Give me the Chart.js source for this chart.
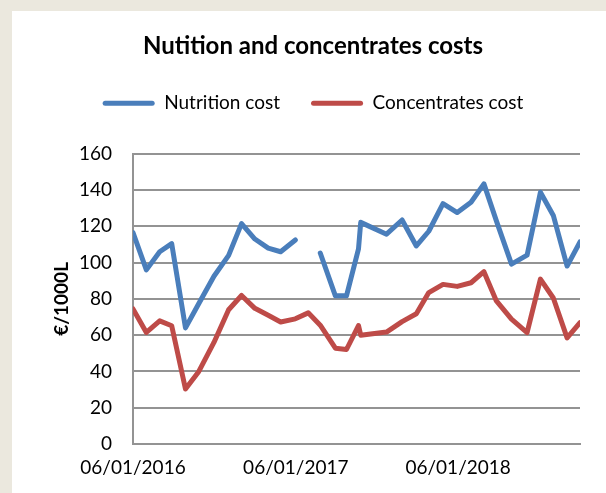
<!DOCTYPE html>
<html lang="en">
<head>
    <meta charset="UTF-8">
    <title>Nutition and concentrates costs</title>
    <script src="https://cdn.jsdelivr.net/npm/chart.js"></script>
    <style>
        body {
            margin: 0;
            width: 606px;
            height: 493px;
            background-color: #ebe8de;
            overflow: hidden;
        }
        .panel {
            position: absolute;
            left: 12px;
            top: 11px;
            width: 594px;
            height: 482px;
            background: white;
        }
    </style>
</head>
<body>
    <div class="panel">
        <canvas id="costChart" width="594" height="482"></canvas>
    </div>
    <script>
        // sample dates (the axis is a date axis)
        const dates = [
            '2016-01-06', '2016-02-05', '2016-03-06', '2016-04-02', '2016-05-03', '2016-06-02',
            '2016-07-06', '2016-08-08', '2016-09-06', '2016-10-06', '2016-11-05', '2016-12-03',
            '2017-01-05', '2017-02-03', '2017-03-02', '2017-04-05', '2017-04-30', '2017-05-27',
            '2017-06-01', '2017-07-29', '2017-09-02', '2017-10-04', '2017-11-01', '2017-12-03',
            '2018-01-04', '2018-02-04', '2018-03-05', '2018-04-02', '2018-05-06', '2018-06-10',
            '2018-07-10', '2018-08-08', '2018-09-08', '2018-10-07'
        ];
        const nutritionCost = [
            116.5, 96, 106, 110.5, 64, 77.5,
            92.5, 104, 121.5, 113, 108, 106,
            112.5, null, 105.3, 81.7, 81.7, 107.6,
            122.2, 115.7, 123.5, 109.2, 117.3, 132.5,
            127.6, 133.3, 143.4, 123, 99.2, 104.1,
            138.8, 126, 98.1, 111.4
        ];
        const concentratesCost = [
            74.5, 61.5, 67.9, 65.2, 30.3, 40,
            56, 74, 81.9, 74.8, 71, 67.3,
            69, 72.3, 65.5, 52.8, 52.1, 65.3,
            60, 61.7, 67.5, 71.8, 83.5, 88,
            86.9, 88.9, 95, 78.9, 68.8, 61.4,
            90.9, 80.5, 58.5, 66.9
        ];
        const tickDates = ['2016-01-06', '2017-01-06', '2018-01-06'];
        const tickLabels = ['06/01/2016', '06/01/2017', '06/01/2018'];

        const DAY = 86400000;
        const origin = Date.parse(dates[0]);
        const toDay = d => Math.round((Date.parse(d) - origin) / DAY);

        const nutritionPoints = dates.map((d, i) => ({ x: toDay(d), y: nutritionCost[i] }));
        const concentratesPoints = dates.map((d, i) => ({ x: toDay(d), y: concentratesCost[i] }));
        const tickDays = tickDates.map(toDay);

        const FONT = 'Lato, "Open Sans", sans-serif';
        const GRID = '#939393';
        const LEGEND_LIFT = 31;

        // title and legend sit higher than Chart.js would put them
        const legendLift = {
            id: 'legendLift',
            afterLayout(chart) {
                chart.legend.top -= LEGEND_LIFT;
                chart.legend.bottom -= LEGEND_LIFT;
            }
        };

        new Chart(document.getElementById('costChart'), {
            type: 'line',
            data: {
                datasets: [
                    {
                        label: 'Nutrition cost',
                        data: nutritionPoints,
                        borderColor: '#4a7ebb',
                        backgroundColor: '#4a7ebb',
                        borderWidth: 5,
                        pointRadius: 0,
                        tension: 0,
                        spanGaps: false,
                        borderJoinStyle: 'round',
                        borderCapStyle: 'round'
                    },
                    {
                        label: 'Concentrates cost',
                        data: concentratesPoints,
                        borderColor: '#be4b48',
                        backgroundColor: '#be4b48',
                        borderWidth: 5,
                        pointRadius: 0,
                        tension: 0,
                        borderJoinStyle: 'round',
                        borderCapStyle: 'round'
                    }
                ]
            },
            options: {
                responsive: false,
                animation: false,
                layout: {
                    padding: { left: 34, right: 26, top: 0, bottom: 0 }
                },
                plugins: {
                    title: {
                        display: true,
                        text: 'Nutition and concentrates costs',
                        color: '#000',
                        font: { family: FONT, size: 24, weight: 'bold' },
                        padding: { top: 21, bottom: 33 }
                    },
                    legend: {
                        position: 'top',
                        labels: {
                            color: '#000',
                            font: { family: FONT, size: 19 },
                            boxWidth: 52,
                            boxHeight: 5,
                            padding: 31,
                            useBorderRadius: true,
                            borderRadius: 2.5,
                            generateLabels(chart) {
                                return chart.data.datasets.map((ds, i) => ({
                                    text: ds.label,
                                    fillStyle: ds.borderColor,
                                    strokeStyle: ds.borderColor,
                                    lineWidth: 0,
                                    borderRadius: 2.5,
                                    datasetIndex: i
                                }));
                            }
                        }
                    },
                    tooltip: { enabled: false }
                },
                scales: {
                    x: {
                        type: 'linear',
                        min: 0,
                        max: toDay(dates[dates.length - 1]),
                        afterBuildTicks(scale) {
                            scale.ticks = tickDays.map(v => ({ value: v }));
                        },
                        afterFit(scale) {
                            scale.height = 49;
                        },
                        ticks: {
                            color: '#000',
                            font: { family: FONT, size: 19 },
                            padding: 12,
                            maxRotation: 0,
                            autoSkip: false,
                            callback: function(value) {
                                return tickLabels[tickDays.indexOf(value)];
                            }
                        },
                        grid: { display: false, drawTicks: false },
                        border: { display: true, color: GRID, width: 2 }
                    },
                    y: {
                        min: 0,
                        max: 160,
                        afterFit(scale) {
                            scale.width = 87;
                        },
                        ticks: {
                            stepSize: 20,
                            color: '#000',
                            font: { family: FONT, size: 19 },
                            padding: 21
                        },
                        grid: { color: GRID, lineWidth: 2, drawTicks: false },
                        border: { display: true, color: GRID, width: 2 },
                        title: {
                            display: true,
                            text: '€/1000L',
                            color: '#000',
                            font: { family: FONT, size: 19, weight: 'bold' },
                            padding: { top: 4, bottom: 4 }
                        }
                    }
                }
            },
            plugins: [legendLift]
        });
    </script>
</body>
</html>
